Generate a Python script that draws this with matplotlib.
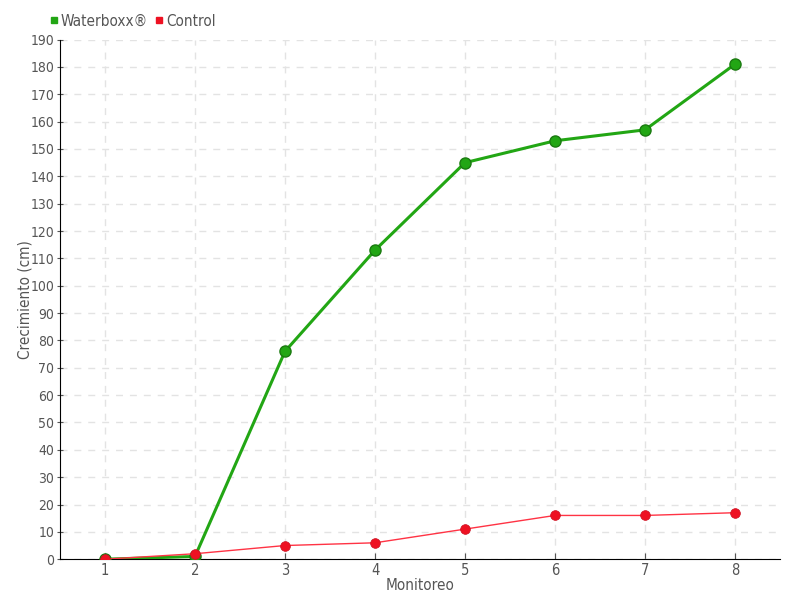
import matplotlib
matplotlib.use('Agg')
import matplotlib.pyplot as plt
from matplotlib.lines import Line2D

plt.rcParams['font.family'] = ['DejaVu Sans']
plt.rcParams['font.stretch'] = 'condensed'

monitoreo = [1, 2, 3, 4, 5, 6, 7, 8]
waterboxx = [0, 1, 76, 113, 145, 153, 157, 181]
control = [0, 2, 5, 6, 11, 16, 16, 17]

fig = plt.figure(figsize=(8, 6), dpi=100)
ax = fig.add_axes([0.075, 0.068, 0.90, 0.866])

ax.plot(monitoreo, waterboxx, color='#22a614', lw=2.2, marker='o', ms=8,
        mfc='#22a614', mec='#1a7a10', mew=1, zorder=3, label='Waterboxx®')
ax.plot(monitoreo, control, color='#ff3344', lw=1, marker='o', ms=7,
        mfc='#ee1122', mec='#cc1122', mew=0.5, zorder=4, label='Control')

ax.set_xlim(0.5, 8.5)
ax.set_ylim(0, 190)
ax.set_xticks(monitoreo)
ax.set_yticks(range(0, 191, 10))
ax.tick_params(axis='both', labelsize=10.5, colors='#555555', length=4)
ax.tick_params(axis='x', direction='in', pad=3)
ax.tick_params(axis='y', direction='inout', pad=2, labelsize=10)
ax.grid(True, ls=(0, (5, 5)), color='#e3e3e3', lw=1)
ax.set_axisbelow(True)
for s in ['top', 'right']:
    ax.spines[s].set_visible(False)
ax.set_xlabel('Monitoreo', fontsize=11, color='#555555', labelpad=0)
ax.set_ylabel('Crecimiento (cm)', fontsize=11, color='#555555')
ax.yaxis.set_label_coords(-0.038, 0.5)

handles = [Line2D([], [], ls='', marker='s', color='#22a614', ms=4.5),
           Line2D([], [], ls='', marker='s', color='#ee1122', ms=4.5)]
fig.legend(handles, ['Waterboxx®', 'Control'], loc='upper left',
           bbox_to_anchor=(0.045, 1.0), ncol=2, frameon=False, fontsize=11,
           handlelength=0.5, handletextpad=0.2, columnspacing=0.5,
           labelcolor='#555555')

fig.savefig('out.png', dpi=100)
